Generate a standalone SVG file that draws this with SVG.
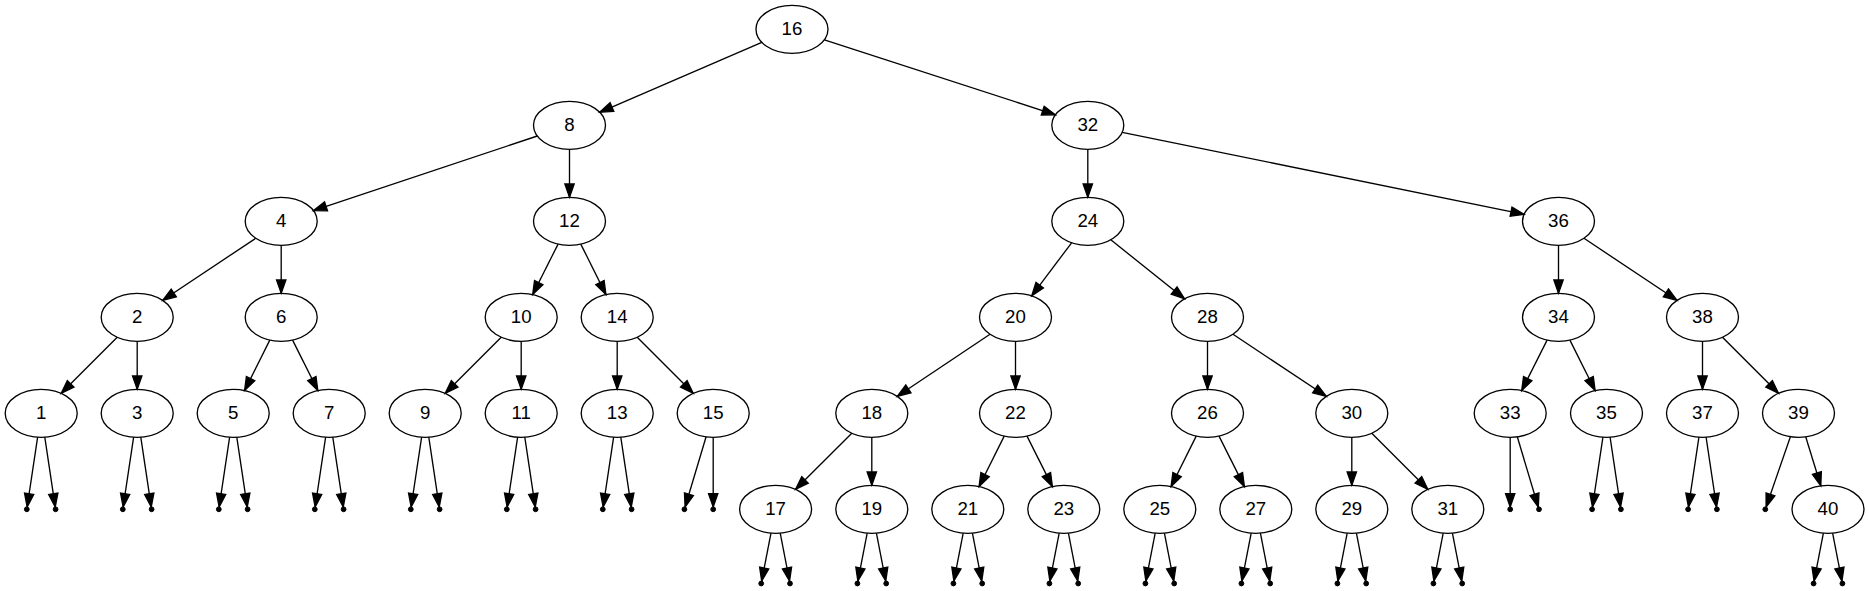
<svg xmlns="http://www.w3.org/2000/svg" width="1869" height="591" viewBox="0 0 1869 591">
<defs>
<style>
.n ellipse{fill:none;stroke:#000;stroke-width:1.33}
.n text{font-family:"Liberation Sans",Arial,sans-serif;font-size:18.67px;text-anchor:middle;fill:#000}
.p circle{fill:#000;stroke:#000;stroke-width:1}
#edges line{stroke:#000;stroke-width:1.33;marker-end:url(#arr)}
</style>
<marker id="arr" markerUnits="userSpaceOnUse" markerWidth="16" markerHeight="12" refX="13.33" refY="4.67" orient="auto" overflow="visible"><path d="M0,0 L13.33,4.67 L0,9.33 Z" fill="#000" stroke="#000" stroke-width="1.33"/></marker>
</defs>
<rect width="1869" height="591" fill="#fff"/>
<g id="edges">
<line x1="761.8" y1="42.3" x2="599.7" y2="112.3"/>
<line x1="824.4" y1="39.8" x2="1055.4" y2="114.8"/>
<line x1="537.3" y1="136" x2="313.4" y2="210.6"/>
<line x1="569.5" y1="149.3" x2="569.5" y2="197.3"/>
<line x1="1087.8" y1="149.3" x2="1087.8" y2="197.3"/>
<line x1="1122.2" y1="132.3" x2="1524.1" y2="214.3"/>
<line x1="255.7" y1="238.3" x2="162.7" y2="300.3"/>
<line x1="281.2" y1="245.3" x2="281.2" y2="293.3"/>
<line x1="558.1" y1="244.1" x2="532.7" y2="294.5"/>
<line x1="580.8" y1="244.1" x2="605.9" y2="294.5"/>
<line x1="1071.6" y1="242.8" x2="1031.7" y2="295.9"/>
<line x1="1110.8" y1="239.8" x2="1184.5" y2="298.8"/>
<line x1="1558.5" y1="245.3" x2="1558.5" y2="293.3"/>
<line x1="1584" y1="238.3" x2="1677" y2="300.3"/>
<line x1="117.2" y1="337.3" x2="61.2" y2="393.3"/>
<line x1="137.2" y1="341.3" x2="137.2" y2="389.3"/>
<line x1="269.8" y1="340.1" x2="244.6" y2="390.5"/>
<line x1="292.6" y1="340.1" x2="317.8" y2="390.5"/>
<line x1="501.2" y1="337.3" x2="445.2" y2="393.3"/>
<line x1="521.2" y1="341.3" x2="521.2" y2="389.3"/>
<line x1="617.2" y1="341.3" x2="617.2" y2="389.3"/>
<line x1="637.2" y1="337.3" x2="693.2" y2="393.3"/>
<line x1="990" y1="334.3" x2="897.3" y2="396.3"/>
<line x1="1015.5" y1="341.3" x2="1015.5" y2="389.3"/>
<line x1="1207.5" y1="341.3" x2="1207.5" y2="389.3"/>
<line x1="1233" y1="334.3" x2="1326.3" y2="396.3"/>
<line x1="1547.1" y1="340.1" x2="1521.7" y2="390.6"/>
<line x1="1569.9" y1="340.1" x2="1595.1" y2="390.5"/>
<line x1="1702.5" y1="341.3" x2="1702.5" y2="389.3"/>
<line x1="1722.5" y1="337.3" x2="1778.5" y2="393.3"/>
<line x1="851.8" y1="433.3" x2="795.6" y2="489.3"/>
<line x1="871.8" y1="437.3" x2="871.8" y2="485.3"/>
<line x1="1004.2" y1="436.1" x2="979.1" y2="486.5"/>
<line x1="1027" y1="436.1" x2="1052.4" y2="486.6"/>
<line x1="1196.2" y1="436.1" x2="1171.1" y2="486.5"/>
<line x1="1219" y1="436.1" x2="1244.4" y2="486.6"/>
<line x1="1351.8" y1="437.3" x2="1351.8" y2="485.3"/>
<line x1="1371.8" y1="433.3" x2="1427.8" y2="489.3"/>
<line x1="1805.7" y1="436.8" x2="1820.8" y2="485.8"/>
<line x1="37.62" y1="437.2" x2="27.16" y2="506.9"/>
<line x1="44.78" y1="437.2" x2="55.24" y2="506.9"/>
<line x1="133.62" y1="437.2" x2="123.16" y2="506.9"/>
<line x1="140.78" y1="437.2" x2="151.24" y2="506.9"/>
<line x1="229.62" y1="437.2" x2="219.16" y2="506.9"/>
<line x1="236.78" y1="437.2" x2="247.24" y2="506.9"/>
<line x1="325.62" y1="437.2" x2="315.16" y2="506.9"/>
<line x1="332.78" y1="437.2" x2="343.24" y2="506.9"/>
<line x1="421.62" y1="437.2" x2="411.16" y2="506.9"/>
<line x1="428.78" y1="437.2" x2="439.24" y2="506.9"/>
<line x1="517.62" y1="437.2" x2="507.16" y2="506.9"/>
<line x1="524.78" y1="437.2" x2="535.24" y2="506.9"/>
<line x1="613.62" y1="437.2" x2="603.16" y2="506.9"/>
<line x1="620.78" y1="437.2" x2="631.24" y2="506.9"/>
<line x1="706.1" y1="436.8" x2="685.1" y2="507"/>
<line x1="713.2" y1="437.3" x2="713.2" y2="506.9"/>
<line x1="1510.2" y1="437.3" x2="1510.2" y2="506.9"/>
<line x1="1517.3" y1="436.8" x2="1538.3" y2="507"/>
<line x1="1602.92" y1="437.2" x2="1592.46" y2="506.9"/>
<line x1="1610.08" y1="437.2" x2="1620.54" y2="506.9"/>
<line x1="1698.92" y1="437.2" x2="1688.46" y2="506.9"/>
<line x1="1706.08" y1="437.2" x2="1716.54" y2="506.9"/>
<line x1="1790.4" y1="436.7" x2="1766.1" y2="507"/>
<line x1="770.98" y1="533.1" x2="761.66" y2="581.1"/>
<line x1="780.22" y1="533.1" x2="789.54" y2="581.1"/>
<line x1="867.18" y1="533.1" x2="857.86" y2="581.1"/>
<line x1="876.42" y1="533.1" x2="885.74" y2="581.1"/>
<line x1="963.18" y1="533.1" x2="953.86" y2="581.1"/>
<line x1="972.42" y1="533.1" x2="981.74" y2="581.1"/>
<line x1="1059.18" y1="533.1" x2="1049.86" y2="581.1"/>
<line x1="1068.42" y1="533.1" x2="1077.74" y2="581.1"/>
<line x1="1155.18" y1="533.1" x2="1145.86" y2="581.1"/>
<line x1="1164.42" y1="533.1" x2="1173.74" y2="581.1"/>
<line x1="1251.18" y1="533.1" x2="1241.86" y2="581.1"/>
<line x1="1260.42" y1="533.1" x2="1269.74" y2="581.1"/>
<line x1="1347.18" y1="533.1" x2="1337.86" y2="581.1"/>
<line x1="1356.42" y1="533.1" x2="1365.74" y2="581.1"/>
<line x1="1443.18" y1="533.1" x2="1433.86" y2="581.1"/>
<line x1="1452.42" y1="533.1" x2="1461.74" y2="581.1"/>
<line x1="1823.38" y1="533.1" x2="1814.06" y2="581.1"/>
<line x1="1832.62" y1="533.1" x2="1841.94" y2="581.1"/>
</g>
<g id="n16" class="n"><ellipse cx="792" cy="29.3" rx="36" ry="24"/><text x="792" y="34.5">16</text></g>
<g id="n8" class="n"><ellipse cx="569.5" cy="125.3" rx="36" ry="24"/><text x="569.5" y="130.5">8</text></g>
<g id="n32" class="n"><ellipse cx="1087.8" cy="125.3" rx="36" ry="24"/><text x="1087.8" y="130.5">32</text></g>
<g id="n4" class="n"><ellipse cx="281.2" cy="221.3" rx="36" ry="24"/><text x="281.2" y="226.5">4</text></g>
<g id="n12" class="n"><ellipse cx="569.5" cy="221.3" rx="36" ry="24"/><text x="569.5" y="226.5">12</text></g>
<g id="n24" class="n"><ellipse cx="1087.8" cy="221.3" rx="36" ry="24"/><text x="1087.8" y="226.5">24</text></g>
<g id="n36" class="n"><ellipse cx="1558.5" cy="221.3" rx="36" ry="24"/><text x="1558.5" y="226.5">36</text></g>
<g id="n2" class="n"><ellipse cx="137.2" cy="317.3" rx="36" ry="24"/><text x="137.2" y="322.5">2</text></g>
<g id="n6" class="n"><ellipse cx="281.2" cy="317.3" rx="36" ry="24"/><text x="281.2" y="322.5">6</text></g>
<g id="n10" class="n"><ellipse cx="521.2" cy="317.3" rx="36" ry="24"/><text x="521.2" y="322.5">10</text></g>
<g id="n14" class="n"><ellipse cx="617.2" cy="317.3" rx="36" ry="24"/><text x="617.2" y="322.5">14</text></g>
<g id="n20" class="n"><ellipse cx="1015.5" cy="317.3" rx="36" ry="24"/><text x="1015.5" y="322.5">20</text></g>
<g id="n28" class="n"><ellipse cx="1207.5" cy="317.3" rx="36" ry="24"/><text x="1207.5" y="322.5">28</text></g>
<g id="n34" class="n"><ellipse cx="1558.5" cy="317.3" rx="36" ry="24"/><text x="1558.5" y="322.5">34</text></g>
<g id="n38" class="n"><ellipse cx="1702.5" cy="317.3" rx="36" ry="24"/><text x="1702.5" y="322.5">38</text></g>
<g id="n1" class="n"><ellipse cx="41.2" cy="413.3" rx="36" ry="24"/><text x="41.2" y="418.5">1</text></g>
<g id="n3" class="n"><ellipse cx="137.2" cy="413.3" rx="36" ry="24"/><text x="137.2" y="418.5">3</text></g>
<g id="n5" class="n"><ellipse cx="233.2" cy="413.3" rx="36" ry="24"/><text x="233.2" y="418.5">5</text></g>
<g id="n7" class="n"><ellipse cx="329.2" cy="413.3" rx="36" ry="24"/><text x="329.2" y="418.5">7</text></g>
<g id="n9" class="n"><ellipse cx="425.2" cy="413.3" rx="36" ry="24"/><text x="425.2" y="418.5">9</text></g>
<g id="n11" class="n"><ellipse cx="521.2" cy="413.3" rx="36" ry="24"/><text x="521.2" y="418.5">11</text></g>
<g id="n13" class="n"><ellipse cx="617.2" cy="413.3" rx="36" ry="24"/><text x="617.2" y="418.5">13</text></g>
<g id="n15" class="n"><ellipse cx="713.2" cy="413.3" rx="36" ry="24"/><text x="713.2" y="418.5">15</text></g>
<g id="n18" class="n"><ellipse cx="871.8" cy="413.3" rx="36" ry="24"/><text x="871.8" y="418.5">18</text></g>
<g id="n22" class="n"><ellipse cx="1015.5" cy="413.3" rx="36" ry="24"/><text x="1015.5" y="418.5">22</text></g>
<g id="n26" class="n"><ellipse cx="1207.5" cy="413.3" rx="36" ry="24"/><text x="1207.5" y="418.5">26</text></g>
<g id="n30" class="n"><ellipse cx="1351.8" cy="413.3" rx="36" ry="24"/><text x="1351.8" y="418.5">30</text></g>
<g id="n33" class="n"><ellipse cx="1510.2" cy="413.3" rx="36" ry="24"/><text x="1510.2" y="418.5">33</text></g>
<g id="n35" class="n"><ellipse cx="1606.5" cy="413.3" rx="36" ry="24"/><text x="1606.5" y="418.5">35</text></g>
<g id="n37" class="n"><ellipse cx="1702.5" cy="413.3" rx="36" ry="24"/><text x="1702.5" y="418.5">37</text></g>
<g id="n39" class="n"><ellipse cx="1798.5" cy="413.3" rx="36" ry="24"/><text x="1798.5" y="418.5">39</text></g>
<g id="n17" class="n"><ellipse cx="775.6" cy="509.3" rx="36" ry="24"/><text x="775.6" y="514.5">17</text></g>
<g id="n19" class="n"><ellipse cx="871.8" cy="509.3" rx="36" ry="24"/><text x="871.8" y="514.5">19</text></g>
<g id="n21" class="n"><ellipse cx="967.8" cy="509.3" rx="36" ry="24"/><text x="967.8" y="514.5">21</text></g>
<g id="n23" class="n"><ellipse cx="1063.8" cy="509.3" rx="36" ry="24"/><text x="1063.8" y="514.5">23</text></g>
<g id="n25" class="n"><ellipse cx="1159.8" cy="509.3" rx="36" ry="24"/><text x="1159.8" y="514.5">25</text></g>
<g id="n27" class="n"><ellipse cx="1255.8" cy="509.3" rx="36" ry="24"/><text x="1255.8" y="514.5">27</text></g>
<g id="n29" class="n"><ellipse cx="1351.8" cy="509.3" rx="36" ry="24"/><text x="1351.8" y="514.5">29</text></g>
<g id="n31" class="n"><ellipse cx="1447.8" cy="509.3" rx="36" ry="24"/><text x="1447.8" y="514.5">31</text></g>
<g id="n40" class="n"><ellipse cx="1828" cy="509.3" rx="36" ry="24"/><text x="1828" y="514.5">40</text></g>
<g id="p1a" class="p"><circle cx="26.8" cy="509.3" r="2.4"/></g>
<g id="p1b" class="p"><circle cx="55.6" cy="509.3" r="2.4"/></g>
<g id="p3a" class="p"><circle cx="122.8" cy="509.3" r="2.4"/></g>
<g id="p3b" class="p"><circle cx="151.6" cy="509.3" r="2.4"/></g>
<g id="p5a" class="p"><circle cx="218.8" cy="509.3" r="2.4"/></g>
<g id="p5b" class="p"><circle cx="247.6" cy="509.3" r="2.4"/></g>
<g id="p7a" class="p"><circle cx="314.8" cy="509.3" r="2.4"/></g>
<g id="p7b" class="p"><circle cx="343.6" cy="509.3" r="2.4"/></g>
<g id="p9a" class="p"><circle cx="410.8" cy="509.3" r="2.4"/></g>
<g id="p9b" class="p"><circle cx="439.6" cy="509.3" r="2.4"/></g>
<g id="p11a" class="p"><circle cx="506.8" cy="509.3" r="2.4"/></g>
<g id="p11b" class="p"><circle cx="535.6" cy="509.3" r="2.4"/></g>
<g id="p13a" class="p"><circle cx="602.8" cy="509.3" r="2.4"/></g>
<g id="p13b" class="p"><circle cx="631.6" cy="509.3" r="2.4"/></g>
<g id="p15a" class="p"><circle cx="684.4" cy="509.3" r="2.4"/></g>
<g id="p15b" class="p"><circle cx="713.2" cy="509.3" r="2.4"/></g>
<g id="p33a" class="p"><circle cx="1510.2" cy="509.3" r="2.4"/></g>
<g id="p33b" class="p"><circle cx="1539" cy="509.3" r="2.4"/></g>
<g id="p35a" class="p"><circle cx="1592.1" cy="509.3" r="2.4"/></g>
<g id="p35b" class="p"><circle cx="1620.9" cy="509.3" r="2.4"/></g>
<g id="p37a" class="p"><circle cx="1688.1" cy="509.3" r="2.4"/></g>
<g id="p37b" class="p"><circle cx="1716.9" cy="509.3" r="2.4"/></g>
<g id="p39a" class="p"><circle cx="1765.3" cy="509.3" r="2.4"/></g>
<g id="p17a" class="p"><circle cx="761.2" cy="583.5" r="2.4"/></g>
<g id="p17b" class="p"><circle cx="790" cy="583.5" r="2.4"/></g>
<g id="p19a" class="p"><circle cx="857.4" cy="583.5" r="2.4"/></g>
<g id="p19b" class="p"><circle cx="886.2" cy="583.5" r="2.4"/></g>
<g id="p21a" class="p"><circle cx="953.4" cy="583.5" r="2.4"/></g>
<g id="p21b" class="p"><circle cx="982.2" cy="583.5" r="2.4"/></g>
<g id="p23a" class="p"><circle cx="1049.4" cy="583.5" r="2.4"/></g>
<g id="p23b" class="p"><circle cx="1078.2" cy="583.5" r="2.4"/></g>
<g id="p25a" class="p"><circle cx="1145.4" cy="583.5" r="2.4"/></g>
<g id="p25b" class="p"><circle cx="1174.2" cy="583.5" r="2.4"/></g>
<g id="p27a" class="p"><circle cx="1241.4" cy="583.5" r="2.4"/></g>
<g id="p27b" class="p"><circle cx="1270.2" cy="583.5" r="2.4"/></g>
<g id="p29a" class="p"><circle cx="1337.4" cy="583.5" r="2.4"/></g>
<g id="p29b" class="p"><circle cx="1366.2" cy="583.5" r="2.4"/></g>
<g id="p31a" class="p"><circle cx="1433.4" cy="583.5" r="2.4"/></g>
<g id="p31b" class="p"><circle cx="1462.2" cy="583.5" r="2.4"/></g>
<g id="p40a" class="p"><circle cx="1813.6" cy="583.5" r="2.4"/></g>
<g id="p40b" class="p"><circle cx="1842.4" cy="583.5" r="2.4"/></g>
</svg>
